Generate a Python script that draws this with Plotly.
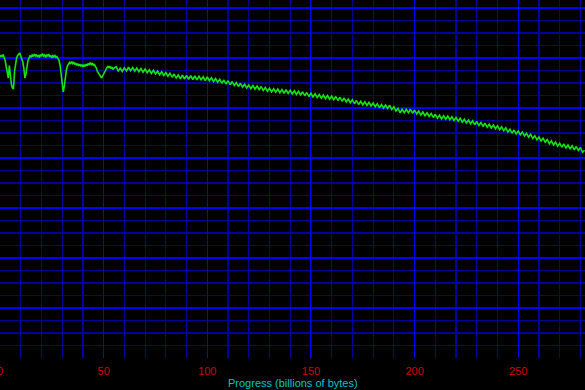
import numpy as np
import plotly.graph_objects as go

# Progress in billions of bytes: fine sampling at the start, then every 1 unit
x_early = np.arange(0, 55.01, 0.5)
x_late = np.arange(56, 282.01, 1.0)

# Transfer rate (arbitrary units, grid major = 20, minor = 5)
rate_early = [
    120.4, 121.0, 120.6, 121.4, 120.2, 119.0, 116.5, 114.0, 112.0, 117.0,
    113.0, 109.5, 108.0, 107.6, 114.5, 118.5, 120.0, 121.0, 121.6, 122.0,
    120.8, 119.6, 118.4, 116.0, 112.0, 113.5, 117.2, 119.0, 120.0, 121.0,
    120.4, 121.2, 120.6, 121.6, 120.8, 121.4, 120.4, 121.2, 120.2, 121.4,
    120.6, 121.8, 120.8, 121.2, 120.2, 121.4, 120.6, 121.6, 120.4, 121.0,
    120.0, 121.2, 120.4, 121.0, 120.2, 120.6, 119.8, 119.0, 117.0, 113.5,
    109.0, 106.4, 108.5, 112.5, 115.0, 116.8, 117.6, 118.2, 117.6, 118.6,
    117.8, 118.4, 117.4, 118.0, 117.0, 117.8, 116.8, 117.6, 116.6, 117.4,
    116.4, 117.2, 116.6, 117.6, 116.8, 117.8, 117.2, 118.2, 117.4, 118.0,
    117.0, 117.6, 116.6, 116.0, 114.6, 113.8, 113.0, 112.6, 112.0, 112.8,
    113.6, 114.6, 115.4, 116.2, 116.8, 116.0, 116.8, 115.8, 116.4, 115.4,
    116.0,
]

rate_late = [
    116.5, 114.8, 115.9, 114.6, 116.1, 114.8, 116.3, 114.9, 116.2, 114.7,
    116.0, 114.5, 115.8, 114.3, 115.6, 114.1, 115.3, 113.8, 115.1, 113.6,
    114.8, 113.3, 114.5, 113.0, 114.2, 112.7, 113.9, 112.3, 113.6, 112.0,
    113.2, 111.7, 113.1, 111.6, 113.0, 111.5, 112.9, 111.4, 112.8, 111.3,
    112.7, 111.3, 112.5, 111.0, 112.4, 110.9, 112.1, 110.6, 111.8, 110.3,
    111.5, 109.9, 111.2, 109.6, 110.9, 109.3, 110.6, 109.0, 110.2, 108.6,
    109.9, 108.3, 109.5, 108.0, 109.2, 107.7, 109.0, 107.5, 108.8, 107.3,
    108.6, 107.0, 108.2, 106.7, 107.9, 106.4, 107.7, 106.3, 107.6, 106.1,
    107.4, 105.9, 107.3, 105.8, 107.1, 105.6, 106.9, 105.4, 106.7, 105.2,
    106.5, 104.9, 106.2, 104.6, 105.9, 104.4, 105.7, 104.2, 105.4, 103.9,
    105.2, 103.7, 105.0, 103.5, 104.8, 103.3, 104.6, 103.0, 104.3, 102.7,
    104.0, 102.4, 103.6, 102.1, 103.3, 101.7, 103.0, 101.4, 102.7, 101.2,
    102.5, 101.0, 102.3, 100.8, 102.0, 100.5, 101.7, 100.1, 101.4, 99.9,
    101.2, 99.8, 101.1, 99.4, 100.5, 98.8, 99.8, 98.1, 99.5, 98.1,
    99.5, 98.1, 99.5, 97.9, 99.2, 97.6, 98.8, 97.2, 98.4, 96.9,
    98.1, 96.6, 97.8, 96.2, 97.5, 95.9, 97.1, 95.6, 96.9, 95.5,
    96.8, 95.3, 96.5, 95.0, 96.2, 94.7, 95.9, 94.3, 95.5, 94.0,
    95.2, 93.7, 94.9, 93.3, 94.6, 93.0, 94.2, 92.6, 93.9, 92.3,
    93.5, 92.0, 93.2, 91.7, 92.9, 91.3, 92.5, 90.9, 92.1, 90.4,
    91.5, 89.9, 91.2, 89.6, 90.8, 89.3, 90.4, 88.8, 89.9, 88.3,
    89.5, 87.8, 88.9, 87.3, 88.4, 86.8, 87.9, 86.3, 87.4, 85.7,
    86.9, 85.2, 86.4, 84.7, 85.9, 84.3, 85.6, 84.0, 85.2, 83.7,
    84.9, 83.3, 84.6, 83.0, 84.2, 82.3, 83.1,
]

x_tick_values = [0, 50, 100, 150, 200, 250]
x_tick_labels = ["0", "50", "100", "150", "200", "250"]
x_title = "Progress (billions of bytes)"

progress = np.concatenate([x_early[:len(rate_early)], x_late[:len(rate_late)]])
rate = rate_early + rate_late

fig = go.Figure()
fig.add_trace(go.Scatter(
    x=progress, y=rate, mode="lines",
    line=dict(color="#14e614", width=1.6),
    hoverinfo="skip", showlegend=False,
))

fig.update_layout(
    width=585, height=390,
    margin=dict(l=0, r=0, t=0, b=32, autoexpand=False),
    paper_bgcolor="black", plot_bgcolor="black",
    font=dict(family="Liberation Sans, Arial, sans-serif", size=11),
    xaxis=dict(
        range=[0, 282.2],
        automargin=False,
        tickvals=x_tick_values, ticktext=x_tick_labels,
        tickfont=dict(color="#d40000", size=11),
        ticklabeloverflow="allow",
        showgrid=True, gridcolor="#0000ff", gridwidth=1,
        minor=dict(dtick=10, tick0=0, showgrid=True, gridcolor="#0000a0", gridwidth=1.2),
        zeroline=False, showline=False,
        ticks="outside", ticklen=3, tickcolor="rgba(0,0,0,0)",
    ),
    yaxis=dict(
        range=[0, 143.2],
        automargin=False,
        dtick=20, tick0=0,
        showticklabels=False,
        showgrid=True, gridcolor="#0000ff", gridwidth=2,
        minor=dict(dtick=5, tick0=0, showgrid=True, gridcolor="#00009a", gridwidth=1.2),
        zeroline=False, showline=False, ticks="",
    ),
    annotations=[dict(
        text=x_title, xref="paper", yref="paper",
        x=0.5, y=-25 / 358, xanchor="center", yanchor="middle",
        showarrow=False, font=dict(color="#00c4cc", size=11),
    )],
)

fig.write_html(
    "out.html",
    config={"displayModeBar": False, "staticPlot": True},
    post_script="document.body.style.margin='0';document.body.style.padding='0';"
                "document.body.style.overflow='hidden';",
)
